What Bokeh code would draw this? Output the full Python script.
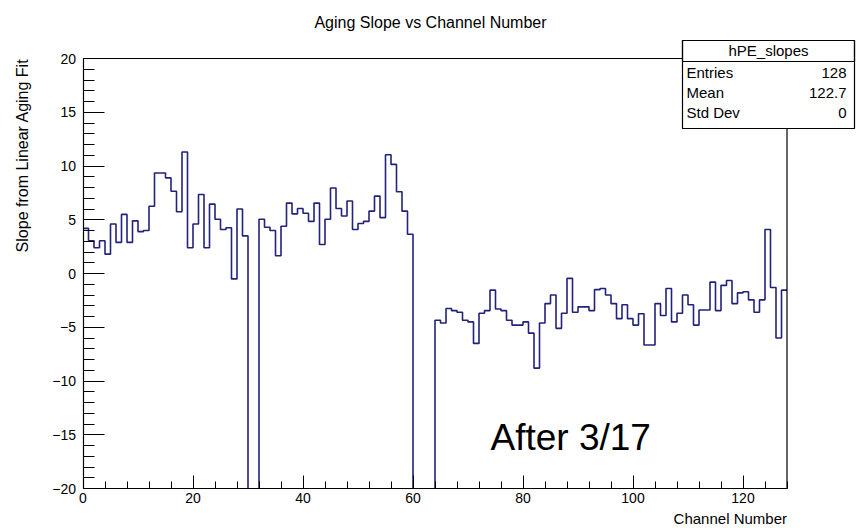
import math
from bokeh.plotting import figure
from bokeh.models import Range1d, FixedTicker, Label, BoxAnnotation
from bokeh.embed import file_html
from bokeh.resources import INLINE

# ---- data -------------------------------------------------------------
title_text = "Aging Slope vs Channel Number"
x_title = "Channel Number"
y_title = "Slope from Linear Aging Fit"
note_text = "After 3/17"

n_channels = 128
bin_edges = list(range(0, n_channels + 1))

# slope per channel (bins 30,31 and 60-63 lie below the -20 axis minimum)
OFF = -30.0
slopes = [
    4.2, 3.05, 2.4, 3.05, 1.8, 4.6, 2.9, 5.5, 2.9, 4.9,
    3.9, 4.0, 6.25, 9.35, 9.35, 8.9, 7.65, 5.75, 11.3, 2.4,
    4.6, 7.35, 2.4, 6.45, 5.05, 4.1, 4.25, -0.5, 6.0, 3.5,
    OFF, OFF, 5.05, 4.3, 4.0, 1.65, 4.4, 6.55, 5.55, 6.05,
    5.6, 4.85, 6.55, 2.7, 5.05, 7.95, 6.05, 5.35, 6.75, 4.1,
    4.65, 4.85, 5.8, 7.2, 5.2, 11.05, 10.15, 7.6, 5.8, 3.65,
    OFF, OFF, OFF, OFF, -4.35, -4.6, -3.25, -3.45, -3.6, -4.35,
    -4.5, -6.5, -3.7, -3.45, -1.55, -3.3, -3.45, -4.35, -4.8, -4.8,
    -4.5, -5.55, -8.8, -4.6, -2.8, -2.0, -5.1, -3.7, -0.45, -3.6,
    -3.1, -3.1, -3.45, -1.5, -1.4, -2.0, -2.8, -4.2, -2.9, -4.2,
    -4.8, -3.75, -6.65, -6.65, -2.8, -3.9, -1.4, -4.5, -3.7, -2.0,
    -2.9, -4.8, -3.4, -3.4, -0.8, -3.45, -1.1, -0.65, -2.8, -1.8,
    -1.7, -2.45, -3.6, -2.45, 4.1, -1.3, -6.0, -1.55,
]

x_lo, x_hi = 0, 128
y_lo, y_hi = -20, 20
x_major = [0, 20, 40, 60, 80, 100, 120]
x_minor = list(range(0, 129, 4))
y_major = [-20, -15, -10, -5, 0, 5, 10, 15, 20]
y_minor = list(range(-20, 21))

stats_name = "hPE_slopes"
stats_keys = ["Entries", "Mean", "Std Dev"]
stats_vals = ["128", "122.7", "0"]

# ---- figure -------------------------------------------------------------
FONT = "Liberation Sans"
HIST_COLOR = "#22227a"
W, H = 858, 528
FL, FR, FT, FB = 82.5, 786.5, 58.0, 488.0   # ROOT frame in pixels
sx = (FR - FL) / (x_hi - x_lo)
sy = (FB - FT) / (y_hi - y_lo)


def dx(px):
    return x_lo + (px - FL) / sx


def dy(py):
    return y_hi - (py - FT) / sy


p = figure(width=W, height=H, output_backend="svg", toolbar_location=None,
           x_range=Range1d(dx(0), dx(W)), y_range=Range1d(dy(H), dy(0)),
           min_border=0, min_border_left=0, min_border_right=0,
           min_border_top=0, min_border_bottom=0)
p.title.visible = False
p.background_fill_color = "white"
p.border_fill_color = "white"
p.outline_line_color = None
p.xgrid.visible = False
p.ygrid.visible = False

# histogram outline; off-scale bins drop to the frame bottom and leave a gap
hx, hy = [], []
nan = float("nan")
for i, v in enumerate(slopes):
    left, right = bin_edges[i], bin_edges[i + 1]
    if v < y_lo:
        hx += [left, nan, right]
        hy += [y_lo, nan, y_lo]
    else:
        hx += [left, right]
        hy += [v, v]
p.line(x=hx, y=hy, line_color=HIST_COLOR, line_width=1.6)

# ROOT frame box (top and right edges; left/bottom drawn by the axes)
p.line(x=[x_lo, x_hi, x_hi], y=[y_hi, y_hi, y_lo], line_color="black",
       line_width=1.2)

for ax in (p.xaxis[0], p.yaxis[0]):
    ax.axis_line_color = "black"
    ax.axis_line_width = 1.2
    ax.major_tick_line_color = "black"
    ax.minor_tick_line_color = "black"
    ax.major_tick_out = 0
    ax.minor_tick_out = 0
    ax.major_label_text_font = FONT
    ax.major_label_text_font_size = "14px"
    ax.major_label_text_color = "black"

p.xaxis.fixed_location = y_lo
p.yaxis.fixed_location = x_lo
p.xaxis.bounds = (x_lo, x_hi)
p.yaxis.bounds = (y_lo, y_hi)
p.xaxis.ticker = FixedTicker(ticks=x_major, minor_ticks=x_minor)
p.yaxis.ticker = FixedTicker(ticks=y_major, minor_ticks=y_minor)
p.xaxis.major_tick_in = 13
p.xaxis.minor_tick_in = 7
p.yaxis.major_tick_in = 21
p.yaxis.minor_tick_in = 11
p.xaxis.major_label_standoff = 4
p.yaxis.major_label_standoff = 7

# titles
p.add_layout(Label(x=dx(430), y=dy(22), text=title_text, text_font=FONT,
                   text_font_size="16px", text_align="center",
                   text_baseline="middle", text_color="black"))
p.add_layout(Label(x=dx(22), y=y_hi, text=y_title, angle=math.pi / 2,
                   text_font=FONT, text_font_size="16px", text_align="right",
                   text_baseline="middle", text_color="black"))
p.add_layout(Label(x=x_hi, y=dy(518), text=x_title, text_font=FONT,
                   text_font_size="15px", text_align="right",
                   text_baseline="middle", text_color="black"))
p.add_layout(Label(x=dx(490), y=dy(437), text=note_text, text_font=FONT,
                   text_font_size="37px", text_align="left",
                   text_baseline="middle", text_color="black"))

# stats box
bx_l, bx_r, bx_t, bx_b, bx_h = dx(682), dx(854), dy(40), dy(128), dy(61)
p.add_layout(BoxAnnotation(left=bx_l, right=bx_r, top=bx_t, bottom=bx_b,
                           fill_color="white", fill_alpha=1.0,
                           line_color="black", line_width=1.2, line_alpha=1.0))
p.add_layout(BoxAnnotation(left=bx_l, right=bx_r, top=bx_t, bottom=bx_h,
                           fill_alpha=0.0, line_color="black", line_width=1.2,
                           line_alpha=1.0))
p.add_layout(Label(x=dx(768), y=dy(50), text=stats_name, text_font=FONT,
                   text_font_size="15px", text_align="center",
                   text_baseline="middle", text_color="black"))
row_py = [72, 92, 112]
for k, v, py in zip(stats_keys, stats_vals, row_py):
    p.add_layout(Label(x=dx(686), y=dy(py), text=k, text_font=FONT,
                       text_font_size="15px", text_align="left",
                       text_baseline="middle", text_color="black"))
    p.add_layout(Label(x=dx(846), y=dy(py), text=v, text_font=FONT,
                       text_font_size="15px", text_align="right",
                       text_baseline="middle", text_color="black"))

open("out.html", "w").write(file_html(p, INLINE))
